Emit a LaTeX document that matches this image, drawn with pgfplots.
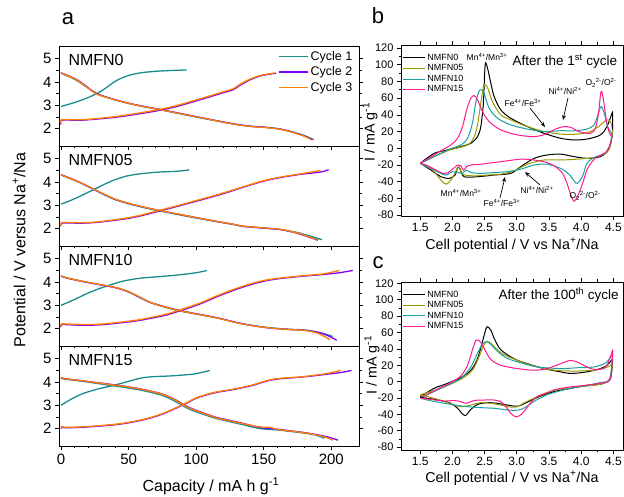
\documentclass[border=0pt]{standalone}
\usepackage{fontspec}
\setmainfont{Liberation Sans}
\usepackage{pgfplots}
\pgfplotsset{compat=1.18}
\usetikzlibrary{arrows.meta}

\definecolor{cA}{HTML}{1B8C8C}
\definecolor{cB}{HTML}{8000FF}
\definecolor{cC}{HTML}{FF8000}
\definecolor{nB}{HTML}{999900}
\definecolor{nC}{HTML}{1AA0A0}
\definecolor{nD}{HTML}{FF1A8C}

\pgfplotsset{
 common/.style={
  scale only axis, tick align=outside,
  major tick length=4pt, minor tick length=2.5pt,
  tick style={black, line width=0.7pt},
  axis line style={line width=0.9pt},
  /pgf/number format/assume math mode=true,
 },
 leftpanel/.style={common,
  width=300pt, height=100pt,
  xmin=-1.5, xmax=220.5, ymin=1.25, ymax=5.55,
  xtick={0,50,100,150,200}, ytick={2,3,4,5},
  minor x tick num=4, minor y tick num=1,
  xtick pos=left, ytick pos=both,
  ticklabel style={font=\fontsize{15}{15}\selectfont},
  every axis plot/.append style={line width=1.3pt, smooth},
 },
 rightpanel/.style={common,
  width=222pt, xmin=1.2, xmax=4.65,
  xtick={1.5,2,2.5,3,3.5,4,4.5}, ytick={-80,-60,-40,-20,0,20,40,60,80,100,120},
  minor x tick num=1, minor y tick num=1,
  xtick pos=both, ytick pos=both,
  xticklabel style={font=\fontsize{12}{12}\selectfont, /pgf/number format/.cd, fixed, fixed zerofill, precision=1},
  yticklabel style={font=\fontsize{11}{11}\selectfont},
  every axis plot/.append style={line width=1pt, smooth},
  legend style={draw=none, fill=none, font=\fontsize{9}{9}\selectfont, at={(0.005,0.96)}, anchor=north west, row sep=-1.2pt, inner sep=0pt},
  legend cell align=left,
  legend image code/.code={\draw[#1, line width=1pt] (0pt,0pt) -- (22pt,0pt);},
 },
}

\newcommand{\sy}[1]{\textsuperscript{#1}}

\begin{document}
\begin{tikzpicture}
\useasboundingbox (0pt,0pt) rectangle (624pt,497pt);

% ---------------- panel a, NMFN0 ----------------
\begin{axis}[leftpanel, at={(59pt,351pt)}, anchor=south west, xticklabels={},
  legend style={draw=none, fill=none, font=\fontsize{12.5}{12.5}\selectfont, at={(0.985,0.97)}, anchor=north east, row sep=1pt, inner sep=0pt},
  legend cell align=left,
  legend image code/.code={\draw[#1, line width=1.5pt] (0pt,0pt) -- (29pt,0pt);}]
\addplot[cA] coordinates {(0,2.95) (10,3.12) (20,3.33) (28,3.55) (34,3.78) (40,4.03) (46,4.2) (53,4.33) (62,4.42) (75,4.48) (93,4.52)};
\addlegendentry{Cycle 1}
\addplot[cA, forget plot] coordinates {(0,4.38) (8,4.18) (14,3.98) (20,3.74) (26,3.53) (36,3.3) (53,3.04) (78,2.75) (103,2.46) (127,2.2) (140,2.1) (152,2.05) (162,1.98) (170,1.88) (180,1.7) (187,1.52)};
\addplot[cB] coordinates {(0,2.18) (0.6,2.36) (16,2.36) (41,2.49) (66,2.71) (83,2.91) (103,3.24) (120,3.54) (127,3.66) (133,3.88) (140,4.1) (148,4.27) (159,4.38)};
\addlegendentry{Cycle 2}
\addplot[cB, forget plot] coordinates {(0,4.4) (8,4.21) (14,4.02) (20,3.76) (26,3.5) (36,3.31) (53,3.05) (78,2.77) (103,2.48) (127,2.21) (140,2.1) (152,2.05) (162,1.98) (170,1.87) (180,1.68) (186,1.53)};
\addplot[cC] coordinates {(0,2.22) (0.6,2.38) (16,2.38) (41,2.52) (66,2.75) (83,2.95) (103,3.28) (120,3.58) (127,3.7) (133,3.92) (140,4.13) (148,4.29) (158,4.39)};
\addlegendentry{Cycle 3}
\addplot[cC, forget plot] coordinates {(0,4.39) (8,4.2) (14,4.0) (20,3.74) (26,3.49) (36,3.3) (53,3.04) (78,2.76) (103,2.47) (127,2.2) (140,2.09) (152,2.04) (162,1.97) (170,1.86) (180,1.67) (185,1.53)};
\node[anchor=west, font=\fontsize{16}{16}\selectfont] at (rel axis cs:0.02,0.86) {NMFN0};
\end{axis}

% ---------------- NMFN05 ----------------
\begin{axis}[leftpanel, at={(59pt,251pt)}, anchor=south west, xticklabels={}]
\addplot[cA] coordinates {(0,3.05) (10,3.28) (24,3.67) (32,3.9) (39,4.08) (48,4.25) (58,4.35) (73,4.43) (85,4.46) (95,4.52)};
\addplot[cA] coordinates {(0,4.3) (10,4.07) (19,3.84) (29,3.54) (39,3.27) (50,3.07) (66,2.84) (93,2.53) (115,2.3) (127,2.18) (135,2.1) (150,2.02) (162,1.96) (174,1.84) (183,1.7) (193,1.52)};
\addplot[cB] coordinates {(0,2.1) (0.6,2.24) (15,2.23) (29,2.28) (53,2.47) (78,2.83) (103,3.22) (120,3.5) (135,3.78) (150,4.04) (162,4.19) (177,4.33) (192,4.43) (198,4.53)};
\addplot[cB] coordinates {(0,4.32) (10,4.09) (19,3.84) (29,3.55) (39,3.28) (50,3.08) (66,2.86) (93,2.55) (115,2.31) (127,2.19) (135,2.09) (150,2.02) (162,1.96) (174,1.81) (183,1.64) (190,1.5)};
\addplot[cC] coordinates {(0,2.12) (0.6,2.26) (15,2.25) (29,2.3) (53,2.5) (78,2.86) (103,3.25) (120,3.53) (135,3.8) (150,4.06) (162,4.21) (177,4.35) (192,4.5)};
\addplot[cC] coordinates {(0,4.31) (10,4.08) (19,3.85) (29,3.56) (39,3.29) (50,3.09) (66,2.86) (93,2.55) (115,2.31) (127,2.19) (135,2.1) (150,2.03) (162,1.97) (174,1.82) (183,1.66) (189,1.52)};
\node[anchor=west, font=\fontsize{16}{16}\selectfont] at (rel axis cs:0.02,0.86) {NMFN05};
\end{axis}

% ---------------- NMFN10 ----------------
\begin{axis}[leftpanel, at={(59pt,151pt)}, anchor=south west, xticklabels={}]
\addplot[cA] coordinates {(0,3.0) (10,3.25) (19,3.5) (28,3.71) (36,3.87) (46,4.04) (58,4.16) (72,4.23) (86,4.3) (100,4.4) (108,4.5)};
\addplot[cA] coordinates {(0,4.27) (5,4.17) (17,4.02) (29,3.89) (40,3.77) (49,3.6) (57,3.37) (66,3.12) (78,2.9) (90,2.73) (115,2.46) (133,2.22) (152,2.05) (169,1.97) (180,1.94) (190,1.85) (197,1.74) (201,1.66)};
\addplot[cB] coordinates {(0,2.07) (0.6,2.17) (15,2.14) (29,2.16) (45,2.25) (58,2.35) (70,2.48) (78,2.58) (90,2.8) (103,3.06) (115,3.36) (127,3.63) (140,3.88) (152,4.06) (165,4.17) (179,4.25) (195,4.33) (206,4.4) (216,4.5)};
\addplot[cB] coordinates {(0,4.25) (5,4.16) (17,4.01) (29,3.88) (40,3.76) (49,3.6) (57,3.38) (66,3.13) (78,2.92) (90,2.75) (115,2.47) (133,2.22) (152,2.04) (169,1.96) (180,1.93) (190,1.84) (198,1.68) (204,1.5)};
\addplot[cC] coordinates {(0,2.1) (0.6,2.2) (15,2.17) (29,2.19) (45,2.28) (58,2.38) (70,2.52) (78,2.62) (90,2.84) (103,3.1) (115,3.4) (127,3.67) (140,3.92) (152,4.09) (165,4.19) (179,4.27) (195,4.36) (206,4.5)};
\addplot[cC] coordinates {(0,4.26) (5,4.17) (17,4.02) (29,3.89) (40,3.77) (49,3.61) (57,3.39) (66,3.13) (78,2.91) (90,2.74) (115,2.46) (133,2.21) (152,2.04) (169,1.96) (180,1.92) (190,1.8) (199,1.52)};
\node[anchor=west, font=\fontsize{16}{16}\selectfont] at (rel axis cs:0.02,0.86) {NMFN10};
\end{axis}

% ---------------- NMFN15 ----------------
\begin{axis}[leftpanel, at={(59pt,51pt)}, anchor=south west]
\addplot[cA] coordinates {(0,3.0) (8,3.28) (16,3.5) (26,3.68) (36,3.82) (45,3.95) (53,4.08) (60,4.18) (68,4.23) (80,4.26) (90,4.3) (100,4.36) (110,4.5)};
\addplot[cA] coordinates {(0,4.17) (2,4.13) (15,4.04) (29,3.92) (48,3.76) (60,3.64) (73,3.46) (80,3.3) (86,3.12) (92,2.92) (98,2.76) (106,2.6) (115,2.43) (132,2.2) (147,2.0) (160,1.94) (175,1.84) (187,1.74) (195,1.58)};
\addplot[cB] coordinates {(0,2.0) (0.6,2.07) (4,2.03) (20,2.07) (41,2.17) (55,2.3) (66,2.45) (75,2.62) (83,2.82) (92,3.06) (100,3.3) (113,3.53) (127,3.67) (140,3.83) (147,3.95) (155,4.08) (162,4.14) (175,4.2) (186,4.26) (196,4.33) (207,4.41) (215,4.5)};
\addplot[cB] coordinates {(0,4.2) (2,4.15) (15,4.06) (29,3.96) (48,3.81) (60,3.69) (73,3.52) (80,3.37) (86,3.2) (92,2.99) (98,2.83) (106,2.66) (115,2.48) (132,2.26) (147,2.05) (155,2.0) (162,1.96) (170,1.9) (182,1.81) (196,1.66) (205,1.5)};
\addplot[cC] coordinates {(0,2.02) (0.6,2.09) (4,2.05) (20,2.09) (41,2.19) (55,2.32) (66,2.47) (75,2.64) (83,2.84) (92,3.08) (100,3.32) (113,3.55) (127,3.69) (140,3.85) (147,3.97) (155,4.1) (162,4.16) (175,4.21) (186,4.28) (196,4.36) (207,4.5)};
\addplot[cC] coordinates {(0,4.2) (2,4.15) (15,4.06) (29,3.95) (48,3.8) (60,3.68) (73,3.51) (80,3.36) (86,3.18) (92,2.97) (98,2.81) (106,2.64) (115,2.46) (132,2.24) (147,2.07) (155,2.05) (160,1.96) (170,1.89) (182,1.8) (194,1.66) (201,1.5)};
\node[anchor=west, font=\fontsize{16}{16}\selectfont] at (rel axis cs:0.02,0.86) {NMFN15};
\end{axis}

% ---------------- panel b ----------------
\begin{axis}[rightpanel, at={(401pt,281pt)}, anchor=south west, height=171pt, ymin=-81, ymax=123.6]
\addplot[black] coordinates {(1.5,-18) (1.717,-6) (1.924,-2) (2.13,2) (2.286,6) (2.389,14) (2.44,26) (2.48,54) (2.508,100) (2.544,96) (2.596,78) (2.647,62) (2.75,46) (2.906,36) (3.164,26) (3.42,18) (3.68,12) (3.89,10) (4.09,11) (4.3,16) (4.4,26) (4.48,42) (4.49,44)};
\addlegendentry{NMFN0}
\addplot[nB] coordinates {(1.5,-18) (1.924,-3) (2.234,4) (2.337,14) (2.389,28) (2.44,54) (2.482,74) (2.503,76) (2.544,73) (2.62,56) (2.75,40) (2.906,34) (3.06,29) (3.37,21) (3.68,17) (3.94,17) (4.146,20) (4.3,28) (4.4,34) (4.456,32) (4.49,22)};
\addlegendentry{NMFN05}
\addplot[nC] coordinates {(1.5,-18) (1.924,-2) (2.13,4) (2.234,12) (2.31,30) (2.36,54) (2.41,68) (2.45,70) (2.49,66) (2.57,48) (2.7,36) (2.906,28) (3.164,23) (3.42,20) (3.68,21) (3.89,21) (4.09,23) (4.2,28) (4.26,40) (4.31,50) (4.36,42) (4.41,26) (4.48,17)};
\addlegendentry{NMFN10}
\addplot[nD] coordinates {(1.5,-18) (1.82,-3) (1.975,4) (2.08,12) (2.156,26) (2.22,46) (2.286,60) (2.337,63) (2.389,58) (2.466,44) (2.57,32) (2.75,22) (3.01,16) (3.27,14) (3.45,17) (3.6,23) (3.73,26) (3.84,25) (3.965,20) (4.146,18) (4.22,24) (4.27,42) (4.3,64) (4.32,68) (4.35,56) (4.39,34) (4.44,18) (4.48,14)};
\addlegendentry{NMFN15}
% cathodic branches
\addplot[black, forget plot] coordinates {(4.49,44) (4.488,22) (4.46,6) (4.4,-4) (4.3,-10) (4.09,-12) (3.89,-10) (3.68,-7) (3.47,-8) (3.27,-12) (3.06,-22) (2.906,-30) (2.647,-32) (2.389,-34) (2.18,-34) (2.12,-25) (2.08,-23) (2.04,-32) (1.95,-36) (1.82,-34) (1.665,-26) (1.5,-18)};
\addplot[nB, forget plot] coordinates {(4.49,22) (4.456,4) (4.4,-5) (4.2,-11) (3.94,-13) (3.68,-14) (3.42,-14) (3.164,-19) (2.957,-27) (2.75,-31) (2.544,-32) (2.337,-33) (2.156,-31) (2.1,-22) (2.05,-28) (1.975,-38) (1.9,-43) (1.82,-38) (1.69,-26) (1.5,-18)};
\addplot[nC, forget plot] coordinates {(4.48,17) (4.44,2) (4.35,-7) (4.2,-11) (4.09,-18) (4.02,-34) (3.94,-42) (3.89,-39) (3.81,-31) (3.68,-24) (3.47,-19) (3.27,-20) (3.06,-25) (2.85,-28) (2.647,-29) (2.44,-30) (2.286,-29) (2.21,-26) (2.156,-30) (2.08,-29) (2.0,-28) (1.9,-32) (1.82,-30) (1.665,-24) (1.5,-18)};
\addplot[nD, forget plot] coordinates {(4.48,14) (4.44,2) (4.38,-5) (4.25,-10) (4.17,-16) (4.09,-26) (4.03,-40) (3.965,-54) (3.91,-62) (3.88,-63) (3.84,-56) (3.78,-42) (3.71,-30) (3.6,-22) (3.47,-17) (3.27,-14) (3.06,-13) (2.85,-15) (2.647,-17) (2.44,-19) (2.286,-20) (2.22,-22) (2.17,-26) (2.13,-21) (2.08,-20) (2.016,-24) (1.93,-29) (1.85,-30) (1.72,-25) (1.59,-20) (1.5,-18)};
\end{axis}

% ---------------- panel c ----------------
\begin{axis}[rightpanel, at={(401pt,47pt)}, anchor=south west, height=168pt, ymin=-83.4, ymax=121.7]
\addplot[black] coordinates {(1.5,-18.3) (1.717,-8) (1.924,-2) (2.13,5) (2.286,14) (2.389,28) (2.466,49) (2.518,64) (2.544,67) (2.596,63) (2.647,53) (2.75,39) (2.957,28) (3.164,22) (3.42,16) (3.68,12) (3.836,10) (4.09,12) (4.3,16) (4.4,20) (4.49,28)};
\addlegendentry{NMFN0}
\addplot[nB] coordinates {(1.5,-16) (1.82,-8) (2.13,3) (2.31,14) (2.41,30) (2.49,45) (2.534,49) (2.596,47) (2.67,41) (2.8,33) (3.01,26) (3.27,19) (3.58,14) (3.89,13) (4.2,14) (4.4,17.5) (4.49,21.5)};
\addlegendentry{NMFN05}
\addplot[nC] coordinates {(1.5,-20) (1.82,-8) (2.13,4) (2.286,18) (2.389,35) (2.466,46) (2.534,49) (2.6,45) (2.7,37) (2.85,28.5) (3.06,23) (3.32,18) (3.68,16) (3.94,17) (4.2,18) (4.38,23) (4.49,33)};
\addlegendentry{NMFN10}
\addplot[nD] coordinates {(1.5,-20) (1.77,-9) (1.975,-1) (2.13,7) (2.234,20) (2.31,39) (2.36,50) (2.389,51) (2.44,48) (2.518,37) (2.596,27) (2.75,20) (3.01,16) (3.27,14) (3.47,16) (3.68,22) (3.836,26) (3.965,23) (4.146,16) (4.3,15) (4.4,20) (4.49,39)};
\addlegendentry{NMFN15}
\addplot[black, forget plot] coordinates {(4.49,28) (4.456,4) (4.35,-2) (4.2,-4) (3.99,-6) (3.78,-9) (3.58,-12) (3.37,-17.5) (3.216,-23) (3.11,-27) (3.01,-30) (2.85,-28.5) (2.7,-26.5) (2.544,-25.6) (2.39,-27.7) (2.286,-33.8) (2.21,-41) (2.156,-39.5) (2.08,-32.5) (1.975,-26.4) (1.82,-23) (1.665,-21) (1.5,-19)};
\addplot[nB, forget plot] coordinates {(4.49,21.5) (4.44,3) (4.3,-3) (4.09,-5) (3.89,-7) (3.68,-9) (3.47,-13) (3.27,-20) (3.11,-26) (3.01,-30.5) (2.906,-31) (2.75,-28.5) (2.596,-26.4) (2.44,-25.6) (2.286,-28.5) (2.13,-30.5) (1.975,-27) (1.77,-21.6) (1.5,-16)};
\addplot[nC, forget plot] coordinates {(4.49,33) (4.44,3) (4.3,-1) (4.09,-4.5) (3.89,-7) (3.68,-11) (3.47,-16) (3.29,-23) (3.16,-30) (3.06,-34) (2.96,-35) (2.8,-34) (2.647,-32.5) (2.44,-31.7) (2.234,-30.5) (2.03,-28.5) (1.82,-25.6) (1.61,-22.4) (1.5,-20)};
\addplot[nD, forget plot] coordinates {(4.49,39) (4.456,4) (4.35,-1) (4.2,-3) (3.99,-5) (3.78,-7) (3.58,-10) (3.47,-14) (3.32,-18) (3.216,-25.6) (3.11,-36.6) (3.03,-42) (2.98,-43) (2.906,-38.6) (2.83,-30.5) (2.75,-24.4) (2.647,-22.4) (2.49,-22.4) (2.337,-23) (2.21,-26.4) (2.13,-24.4) (2.03,-23) (1.87,-23.6) (1.665,-21.6) (1.5,-20)};
\end{axis}

% ---------------- labels ----------------
\node[font=\fontsize{22}{22}\selectfont] at (68pt,478pt) {a};
\node[font=\fontsize{22}{22}\selectfont] at (378pt,481pt) {b};
\node[font=\fontsize{22}{22}\selectfont] at (378pt,234pt) {c};
\node[rotate=90, font=\fontsize{16}{16}\selectfont] at (19pt,247pt) {Potential / V versus Na\sy{+}/Na};
\node[font=\fontsize{16}{16}\selectfont] at (211pt,11pt) {Capacity / mA h g\sy{-1}};
\node[rotate=90, font=\fontsize{14.3}{14.3}\selectfont] at (370pt,365pt) {I / mA g\sy{-1}};
\node[rotate=90, font=\fontsize{14.3}{14.3}\selectfont] at (372pt,132pt) {I / mA g\sy{-1}};
\node[font=\fontsize{14.3}{14.3}\selectfont] at (512pt,252pt) {Cell potential / V vs Na\sy{+}/Na};
\node[font=\fontsize{14.3}{14.3}\selectfont] at (512pt,19pt) {Cell potential / V vs Na\sy{+}/Na};
\node[anchor=west, font=\fontsize{13.5}{13.5}\selectfont] at (509pt,436pt) {After the 1\sy{st} cycle};
\node[anchor=west, font=\fontsize{13.5}{13.5}\selectfont] at (495pt,202pt) {After the 100\sy{th} cycle};
\begin{scope}[font=\fontsize{8.5}{8.5}\selectfont]
\node at (487pt,440pt) {Mn\sy{4+}/Mn\sy{3+}};
\node at (523pt,394pt) {Fe\sy{4+}/Fe\sy{3+}};
\node at (565pt,406pt) {Ni\sy{4+}/Ni\sy{2+}};
\node at (601pt,414pt) {O\textsubscript{2}\sy{2-}/O\sy{2-}};
\node at (461pt,304pt) {Mn\sy{4+}/Mn\sy{3+}};
\node at (502pt,294pt) {Fe\sy{4+}/Fe\sy{3+}};
\node at (537pt,307pt) {Ni\sy{4+}/Ni\sy{2+}};
\node at (585pt,301pt) {O\textsubscript{2}\sy{2-}/O\sy{2-}};
\end{scope}
\draw[-{Stealth[length=5pt,width=4pt]}, line width=0.7pt] (530pt,389pt) -- (545pt,370pt);
\draw[-{Stealth[length=5pt,width=4pt]}, line width=0.7pt] (568pt,399pt) -- (563pt,377pt);
\draw[-{Stealth[length=5pt,width=4pt]}, line width=0.7pt] (500pt,299pt) -- (505pt,320pt);
\draw[-{Stealth[length=5pt,width=4pt]}, line width=0.7pt] (540pt,312pt) -- (525pt,325pt);
\end{tikzpicture}
\end{document}
